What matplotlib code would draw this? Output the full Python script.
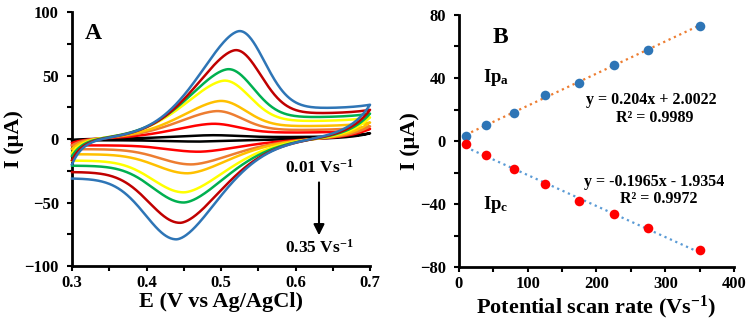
import numpy as np
import matplotlib
matplotlib.use("Agg")
import matplotlib.pyplot as plt

plt.rcParams['font.family'] = ['Liberation Serif', 'DejaVu Serif']
plt.rcParams['font.weight'] = 'bold'
plt.rcParams['mathtext.fontset'] = 'custom'
plt.rcParams['mathtext.rm'] = 'Liberation Serif:bold'
plt.rcParams['mathtext.it'] = 'Liberation Serif:bold'
plt.rcParams['mathtext.bf'] = 'Liberation Serif:bold'

# ---- panel A : cyclic voltammograms
cv_colors = ['#000000', '#FF0000', '#ED7D31', '#FFC000', '#FFFF00', '#00B050', '#C00000', '#2E75B6']
cv_ipa = [3, 12, 22, 30, 46, 55, 70, 85]            # anodic peak current (uA)
cv_epa = [0.49, 0.49, 0.495, 0.50, 0.505, 0.51, 0.52, 0.525]
cv_ipc = [-2, -10, -20, -27, -42, -50, -66, -79]    # cathodic peak current (uA)
cv_epc = [0.47, 0.47, 0.46, 0.455, 0.45, 0.45, 0.445, 0.44]
cv_tail_fwd = [1.5, 5, 7, 10, 14, 17, 20, 24]       # current after anodic peak
cv_tail_rev = [-1, -5, -8, -12, -17, -21, -26, -31]  # current at 0.3 V on return

# ---- panel B : peak currents vs scan rate
scan_rate = [10, 40, 80, 125, 175, 225, 275, 350]
ipa = [3.5, 10, 18, 29, 37, 48.5, 58, 73]
ipc = [-2, -9, -18, -27, -38, -46, -55, -69]


def anodic(E, ip, ep, tail):
    d = E - ep
    rise = ip * np.exp(-(np.abs(d) / 0.0795) ** 1.7)
    fall = tail + (ip - tail) * np.exp(-(d / 0.047) ** 2)
    return np.where(d < 0, rise, fall)


def cathodic(E, ip, ep, tail):
    d = E - ep
    rise = ip * np.exp(-(np.abs(d) / 0.0835) ** 1.7)
    fall = tail + (ip - tail) * np.exp(-(d / 0.058) ** 2)
    return np.where(d > 0, rise, fall)


fig = plt.figure(figsize=(7.48, 3.25), dpi=100)
ax = fig.add_axes([0.0963, 0.1815, 0.3984, 0.7815])
ax2 = fig.add_axes([0.6136, 0.178, 0.3677, 0.776])

E_f = np.linspace(0.3, 0.7, 400)
E_r = E_f[::-1]
for i in range(len(cv_ipa)):
    start = 0.65 * cv_tail_rev[i]
    I_f = anodic(E_f, cv_ipa[i], cv_epa[i], cv_tail_fwd[i])
    I_f = I_f + start * np.exp(-(E_f - 0.3) / 0.015) + 3 * np.exp((E_f - 0.7) / 0.03)
    I_r = cathodic(E_r, cv_ipc[i], cv_epc[i], cv_tail_rev[i])
    I_r = I_r + (I_f[-1] - I_r[0]) * np.exp(-(0.7 - E_r) / 0.03)
    ax.plot(np.concatenate([E_f, E_r]), np.concatenate([I_f, I_r]),
            color=cv_colors[i], lw=1.8, clip_on=False, zorder=3 + i)

ax.set_xlim(0.3, 0.7)
ax.set_ylim(-100, 100)
ax.set_xticks([0.3, 0.4, 0.5, 0.6, 0.7])
ax.set_xticks(np.arange(0.3, 0.71, 0.05), minor=True)
ax.set_yticks([-100, -50, 0, 50, 100])
ax.set_yticks(np.arange(-100, 101, 25), minor=True)
ax.set_xlabel('E (V vs Ag/AgCl)', fontsize=16, fontweight='bold', labelpad=1)
ax.set_ylabel('I (μA)', fontsize=16, fontweight='bold', labelpad=0)
ax.text(0.328, 83, 'A', fontsize=17, fontweight='bold', ha='center', va='center')
ax.text(0.6315, -23, '0.01 Vs$^{-1}$', fontsize=12.5, ha='center', va='center')
ax.text(0.6315, -86, '0.35 Vs$^{-1}$', fontsize=12.5, ha='center', va='center')
ax.annotate('', xy=(0.6315, -78), xytext=(0.6315, -32),
            arrowprops=dict(arrowstyle='-|>', color='black', lw=1.5, mutation_scale=16))

# panel B
xs = np.array([scan_rate[0], scan_rate[-1]])
ax2.plot(xs, 0.204 * xs + 2.0022, ls=':', color='#ED7D31', lw=1.6, zorder=2)
ax2.plot(xs, -0.1965 * xs - 1.9354, ls=':', color='#5B9BD5', lw=1.6, zorder=2)
ax2.scatter(scan_rate, ipa, s=48, color='#2E75B6', zorder=3, linewidths=0)
ax2.scatter(scan_rate, ipc, s=48, color='#FF0000', zorder=3, linewidths=0)
ax2.set_xlim(0, 400)
ax2.set_ylim(-80, 80)
ax2.set_xticks([0, 100, 200, 300, 400])
ax2.set_xticks(np.arange(0, 401, 50), minor=True)
ax2.set_yticks([-80, -40, 0, 40, 80])
ax2.set_yticks(np.arange(-80, 81, 20), minor=True)
ax2.set_xlabel('Potential scan rate (Vs$^{-1}$)', fontsize=16, fontweight='bold', labelpad=1)
ax2.set_ylabel('I (μA)', fontsize=16, fontweight='bold', labelpad=0)
ax2.text(60, 66, 'B', fontsize=17, fontweight='bold', ha='center', va='center')
ax2.text(54, 40, 'Ip$_{a}$', fontsize=13.5, ha='center', va='center')
ax2.text(54, -40, 'Ip$_{c}$', fontsize=13.5, ha='center', va='center')
ax2.text(279, 26, 'y = 0.204x + 2.0022', fontsize=11.5, ha='center', va='center')
ax2.text(284, 14.6, 'R² = 0.9989', fontsize=11.5, ha='center', va='center')
ax2.text(284, -26, 'y = -0.1965x - 1.9354', fontsize=11.5, ha='center', va='center')
ax2.text(291, -37, 'R² = 0.9972', fontsize=11.5, ha='center', va='center')

for a in (ax, ax2):
    a.spines['top'].set_visible(False)
    a.spines['right'].set_visible(False)
    a.spines['left'].set_linewidth(2)
    a.spines['bottom'].set_linewidth(2)
    a.tick_params(which='both', direction='out', length=3.5, width=1.5, labelsize=12, pad=3)
    a.tick_params(axis='y', which='both', pad=6)
    for lab in a.get_xticklabels() + a.get_yticklabels():
        lab.set_fontweight('bold')

fig.savefig('out.png', dpi=100)
